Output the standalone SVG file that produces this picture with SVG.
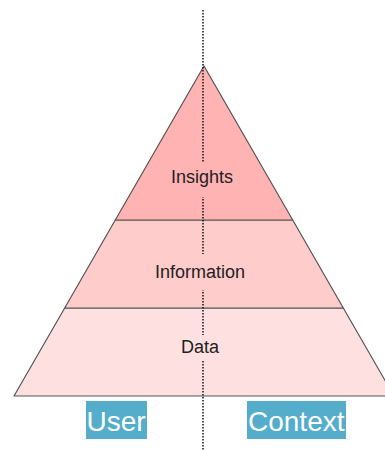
<svg xmlns="http://www.w3.org/2000/svg" width="385" height="450" viewBox="0 0 385 450">
  <style>
    .band { stroke: #555; stroke-width: 1.2; stroke-linejoin: round; }
    .lbl { font-family: "Liberation Sans", Arial, sans-serif; font-size: 18px; fill: #222; text-anchor: middle; }
    .tag { fill: #53adcb; }
    .tagtext { font-family: "Liberation Sans", Arial, sans-serif; font-size: 28px; fill: #fff; }
    .axis { stroke: #111; stroke-width: 1.5; stroke-dasharray: 1.5 1.5; fill: none; }
  </style>
  <rect width="385" height="450" fill="#fff"/>

  <!-- pyramid layers -->
  <g id="data">
    <polygon class="band" fill="#ffe0e0" points="64.7,308 343.3,308 394,396 14,396"/>
  </g>
  <g id="information">
    <polygon class="band" fill="#ffcccc" points="115.3,220 292.7,220 343.3,308 64.7,308"/>
  </g>
  <g id="insights">
    <polygon class="band" fill="#ffb3b3" points="204,66 292.7,220 115.3,220"/>
  </g>

  <!-- central dotted axis -->
  <g id="connectors">
    <line class="axis" x1="203" y1="10" x2="203" y2="450"/>
  </g>

  <!-- layer labels, each on a patch of its band colour -->
  <g id="insights-label">
    <rect x="168" y="162" width="70" height="35" fill="#ffb3b3"/>
    <text class="lbl" x="202" y="183">Insights</text>
  </g>
  <g id="information-label">
    <rect x="150" y="254" width="100" height="36" fill="#ffcccc"/>
    <text class="lbl" x="200" y="278">Information</text>
  </g>
  <g id="data-label">
    <rect x="178" y="335" width="45" height="25" fill="#ffe0e0"/>
    <text class="lbl" x="200" y="353">Data</text>
  </g>

  <!-- side tags -->
  <g id="user">
    <rect class="tag" x="86" y="401" width="61" height="38"/>
    <text class="tagtext" x="86.5" y="431">User</text>
  </g>
  <g id="context">
    <rect class="tag" x="247" y="401" width="99" height="38"/>
    <text class="tagtext" x="248" y="431">Context</text>
  </g>
</svg>
